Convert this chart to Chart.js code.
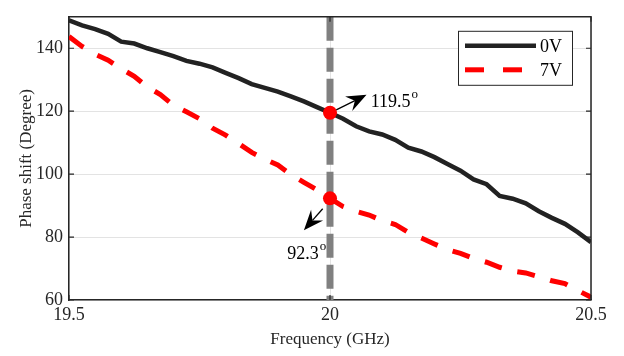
<!DOCTYPE html>
<html>
<head>
<meta charset="utf-8">
<script src="https://cdn.jsdelivr.net/npm/chart.js@4.4.0/dist/chart.umd.min.js"></script>
<style>
  html, body { margin: 0; padding: 0; background: #fff; }
  #wrap { width: 624px; height: 356px; position: relative; }
</style>
</head>
<body>
<div id="wrap"><canvas id="phaseChart"></canvas></div>
<script>
// Phase shift vs frequency, two bias voltages
const freqs = [19.5, 19.525, 19.55, 19.575, 19.6, 19.625, 19.65, 19.675, 19.7, 19.725,
  19.75, 19.775, 19.8, 19.825, 19.85, 19.875, 19.9, 19.925, 19.95, 19.975,
  20, 20.025, 20.05, 20.075, 20.1, 20.125, 20.15, 20.175, 20.2, 20.225,
  20.25, 20.275, 20.3, 20.325, 20.35, 20.375, 20.4, 20.425, 20.45, 20.475, 20.5];

const phase0V = [148.9, 147.3, 146.1, 144.6, 142.1, 141.5, 140, 138.8, 137.5, 136,
  135.1, 133.9, 132.2, 130.5, 128.6, 127.4, 126.2, 124.7, 123.1, 121.3,
  119.5, 117.6, 115.2, 113.6, 112.6, 110.9, 108.4, 107.2, 105.4, 103.2,
  101.1, 98.3, 96.8, 93.1, 92.2, 90.7, 88.2, 86.1, 84.2, 81.5, 78.4];

const phase7V = [143.7, 140.6, 138.1, 136.2, 133.5, 131.1, 127.7, 125.3, 121.9, 119.8,
  117.6, 114.6, 112.4, 109.7, 106.9, 104.8, 102.9, 99.9, 97.4, 95,
  92.3, 89.7, 88.2, 87, 85.2, 84, 81.5, 79.7, 77.8, 76,
  74.8, 73.2, 72, 70.4, 69.2, 68.6, 67.4, 66.1, 65.2, 63, 60.9];

const seriesNames = ['0V', '7V'];
const markFreq = 20;
const markValues = [119.5, 92.3];
const markLabels = ['119.5', '92.3'];

const xTicks = [19.5, 20, 20.5];
const yTicks = [60, 80, 100, 120, 140];

const FONT = '"Liberation Serif", "Times New Roman", serif';
const INK = '#262626';

function toPoints(vals) {
  return freqs.map((f, i) => ({ x: f, y: vals[i] }));
}

function drawArrow(ctx, x1, y1, x2, y2) {
  const ang = Math.atan2(y2 - y1, x2 - x1);
  const len = 20, half = 8, notch = 13;
  ctx.save();
  ctx.strokeStyle = '#000';
  ctx.fillStyle = '#000';
  ctx.lineWidth = 1.3;
  ctx.beginPath();
  ctx.moveTo(x1, y1);
  ctx.lineTo(x2 - Math.cos(ang) * notch, y2 - Math.sin(ang) * notch);
  ctx.stroke();
  ctx.translate(x2, y2);
  ctx.rotate(ang);
  ctx.beginPath();
  ctx.moveTo(0, 0);
  ctx.lineTo(-len, -half);
  ctx.lineTo(-notch, 0);
  ctx.lineTo(-len, half);
  ctx.closePath();
  ctx.fill();
  ctx.restore();
}

function drawDegLabel(ctx, text, x, y) {
  ctx.save();
  ctx.fillStyle = '#000';
  ctx.textBaseline = 'alphabetic';
  ctx.textAlign = 'left';
  ctx.font = '18px ' + FONT;
  ctx.fillText(text, x, y);
  const w = ctx.measureText(text).width;
  ctx.font = '13px ' + FONT;
  ctx.fillText('o', x + w + 1, y - 9);
  ctx.restore();
}

// frame, inward ticks, legend box and arrow annotations
const extrasPlugin = {
  id: 'extras',
  afterDraw(chart) {
    const { ctx, chartArea: a, scales: { x, y } } = chart;
    ctx.save();
    // frame top/right
    ctx.strokeStyle = INK;
    ctx.lineWidth = 1.5;
    ctx.beginPath();
    ctx.moveTo(a.left, a.top);
    ctx.lineTo(a.right, a.top);
    ctx.lineTo(a.right, a.bottom);
    ctx.stroke();
    // inward tick marks
    ctx.lineWidth = 1.2;
    ctx.beginPath();
    yTicks.forEach(v => {
      const py = y.getPixelForValue(v);
      ctx.moveTo(a.left, py); ctx.lineTo(a.left + 5, py);
      ctx.moveTo(a.right, py); ctx.lineTo(a.right - 5, py);
    });
    xTicks.forEach(v => {
      const px = x.getPixelForValue(v);
      ctx.moveTo(px, a.bottom); ctx.lineTo(px, a.bottom - 5);
      ctx.moveTo(px, a.top); ctx.lineTo(px, a.top + 5);
    });
    ctx.stroke();

    // legend
    const lx = a.right - 133, ly = a.top + 14, lw = 114, lh = 54;
    ctx.fillStyle = '#fff';
    ctx.fillRect(lx, ly, lw, lh);
    ctx.strokeStyle = INK;
    ctx.lineWidth = 1;
    ctx.strokeRect(lx + 0.5, ly + 0.5, lw, lh);
    seriesNames.forEach((name, i) => {
      const d = chart.data.datasets.find(s => s.label === name);
      const yy = ly + 15 + i * 24;
      ctx.strokeStyle = d.borderColor;
      ctx.lineWidth = d.borderWidth;
      ctx.setLineDash(d.borderDash ? [19, 19] : []);
      ctx.beginPath();
      ctx.moveTo(lx + 7, yy);
      ctx.lineTo(lx + (d.borderDash ? 64 : 78), yy);
      ctx.stroke();
      ctx.setLineDash([]);
      ctx.fillStyle = '#000';
      ctx.font = '18px ' + FONT;
      ctx.textBaseline = 'middle';
      ctx.fillText(name, lx + 82, yy + 1);
    });

    // annotations
    drawArrow(ctx, x.getPixelForValue(20.012), y.getPixelForValue(120.4),
      x.getPixelForValue(20.07), y.getPixelForValue(125.2));
    drawDegLabel(ctx, markLabels[0], x.getPixelForValue(20.078), y.getPixelForValue(121.3));
    drawArrow(ctx, x.getPixelForValue(19.986), y.getPixelForValue(89.0),
      x.getPixelForValue(19.95), y.getPixelForValue(82.2));
    drawDegLabel(ctx, markLabels[1], x.getPixelForValue(19.918), y.getPixelForValue(72.9));
    ctx.restore();
  }
};

new Chart(document.getElementById('phaseChart'), {
  type: 'line',
  data: {
    datasets: [
      {
        label: 'markers',
        type: 'scatter',
        data: markValues.map(v => ({ x: markFreq, y: v })),
        pointRadius: 7,
        pointBackgroundColor: '#ff0000',
        pointBorderWidth: 0,
        order: 0
      },
      {
        label: 'marker line',
        data: [{ x: markFreq, y: 150 }, { x: markFreq, y: 60 }],
        borderColor: '#808080',
        borderWidth: 7,
        borderDash: [24, 7],
        borderCapStyle: 'butt',
        pointRadius: 0,
        order: 1
      },
      {
        label: seriesNames[1],
        data: toPoints(phase7V),
        borderColor: '#ff0000',
        borderWidth: 5,
        borderDash: [18, 16],
        borderCapStyle: 'butt',
        pointRadius: 0,
        tension: 0,
        order: 2
      },
      {
        label: seriesNames[0],
        data: toPoints(phase0V),
        borderColor: '#222222',
        borderWidth: 4.5,
        pointRadius: 0,
        tension: 0,
        order: 3
      }
    ]
  },
  options: {
    responsive: true,
    maintainAspectRatio: false,
    animation: false,
    layout: { padding: { top: 7, right: 33, left: 0, bottom: 0 } },
    plugins: {
      legend: { display: false },
      tooltip: { enabled: false }
    },
    scales: {
      x: {
        type: 'linear',
        min: 19.5,
        max: 20.5,
        afterBuildTicks: s => { s.ticks = xTicks.map(v => ({ value: v })); },
        afterFit: s => { s.height = 56; },
        ticks: {
          color: INK,
          padding: 4,
          maxRotation: 0,
          font: { family: FONT, size: 18 },
          callback: v => String(v)
        },
        grid: { color: '#e3e3e3', drawTicks: false },
        border: { color: INK, width: 1.5 },
        title: {
          display: true,
          text: 'Frequency (GHz)',
          color: INK,
          font: { family: FONT, size: 17 },
          padding: { top: 0, bottom: 6 }
        }
      },
      y: {
        min: 60,
        max: 150,
        afterBuildTicks: s => { s.ticks = yTicks.map(v => ({ value: v })); },
        afterFit: s => { s.width = 69; },
        ticks: {
          color: INK,
          padding: 6,
          font: { family: FONT, size: 18 }
        },
        grid: { color: '#e3e3e3', drawTicks: false },
        border: { color: INK, width: 1.5 },
        title: {
          display: true,
          text: 'Phase shift (Degree)',
          color: INK,
          font: { family: FONT, size: 17 },
          padding: { top: 16, bottom: 0 }
        }
      }
    }
  },
  plugins: [extrasPlugin]
});
</script>
</body>
</html>
